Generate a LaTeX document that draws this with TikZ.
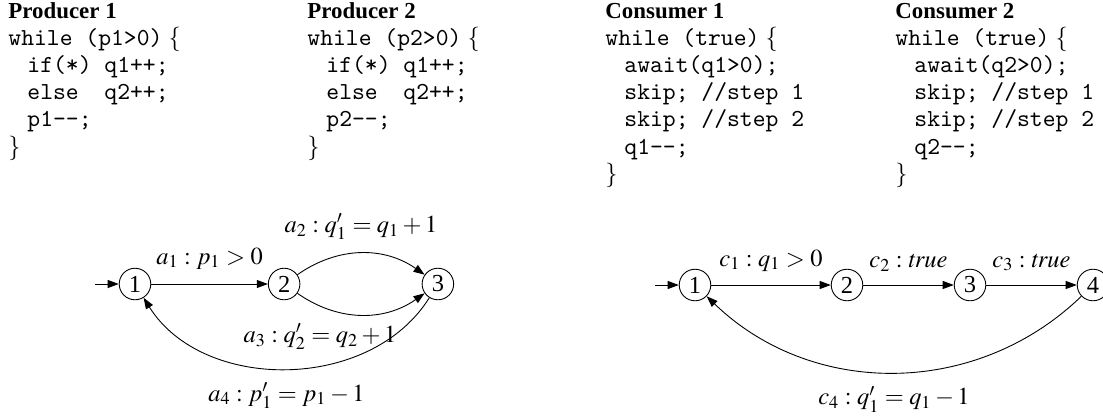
\documentclass[tikz,border=0pt]{standalone}
\usepackage{mathptmx}
\usepackage[no-math]{fontspec}
\setmainfont{Liberation Serif}
\setmonofont{Latin Modern Mono}
\usetikzlibrary{arrows.meta,positioning}

\begin{document}
\begin{tikzpicture}[
    x=0.45pt, y=-0.45pt,
    title/.style={anchor=base west, inner sep=0pt, font=\fontsize{10.3}{12}\selectfont\bfseries},
    codeline/.style={anchor=base west, inner sep=0pt, font=\fontsize{11}{13}\selectfont},
    state/.style={draw, circle, minimum size=14.2pt, inner sep=0pt, font=\fontsize{11}{13}\selectfont},
    arr/.style={-{Triangle[length=5pt,width=3.6pt]}},
    lbl/.style={font=\fontsize{11}{13}\selectfont, inner sep=1pt}
  ]
    \useasboundingbox (0,0) rectangle (1103,416);
    % the four programs
    \foreach \k/\px in {1/8, 2/307} {
      \node[title] (prod\k) at (\px,18) {Producer \k};
      \foreach \dx/\ln [count=\i] in {0/{\texttt{while (p\k>0)} $\{$}, 19/{\texttt{if(*) q1++;}},
          19/{\texttt{else~~q2++;}}, 19/{\texttt{p\k-{}-;}}, 0/{$\}$}}
        \node[codeline] (prod\k-\i) at (\px+\dx,18+27.2*\i) {\ln};
    }
    \foreach \k/\px in {1/605, 2/895} {
      \node[title] (cons\k) at (\px,18) {Consumer \k};
      \foreach \dx/\ln [count=\i] in {0/{\texttt{while (true)} $\{$}, 19/{\texttt{await(q\k>0);}},
          19/{\texttt{skip; //step 1}}, 19/{\texttt{skip; //step 2}}, 19/{\texttt{q\k-{}-;}}, 0/{$\}$}}
        \node[codeline] (cons\k-\i) at (\px+\dx,18+27.2*\i) {\ln};
    }

    % producer automaton
    \node[state] (p1) at (135,284) {1};
    \node[state, on grid, right=67.1pt of p1] (p2) {2};
    \node[state, on grid, right=69.2pt of p2] (p3) {3};
    \coordinate[on grid, left=18pt of p1] (pin);
    \draw[arr] (pin) -- (p1);
    \draw[arr] (p1) -- node[lbl, above=5.5pt] {$a_1 : p_1 > 0$} (p2);
    \draw[arr] (p2) to[bend left=35] node[lbl, above=5pt] {$a_2 : q'_1 = q_1 + 1$} (p3);
    \draw[arr] (p2) to[bend right=35] node[lbl, below=3pt, xshift=-18.5pt] {$a_3 : q'_2 = q_2 + 1$} (p3);
    \draw[arr] (p3) to[bend left=58] node[lbl, below=5pt] {$a_4 : p'_1 = p_1 - 1$} (p1);

    % consumer automaton
    \node[state] (c1) at (695,285) {1};
    \node[state, on grid, right=68.4pt of c1] (c2) {2};
    \node[state, on grid, right=55.35pt of c2] (c3) {3};
    \node[state, on grid, right=55.35pt of c3] (c4) {4};
    \coordinate[on grid, left=18pt of c1] (cin);
    \draw[arr] (cin) -- (c1);
    \draw[arr] (c1) -- node[lbl, above=5pt] {$c_1 : q_1 > 0$} (c2);
    \draw[arr] (c2) -- node[lbl, above=5pt] {$c_2 : \mathit{true}$} (c3);
    \draw[arr] (c3) -- node[lbl, above=5pt] {$c_3 : \mathit{true}$} (c4);
    \draw[arr] (c4) to[bend left=44] node[lbl, below=5pt] {$c_4 : q'_1 = q_1 - 1$} (c1);
  \end{tikzpicture}
\end{document}
